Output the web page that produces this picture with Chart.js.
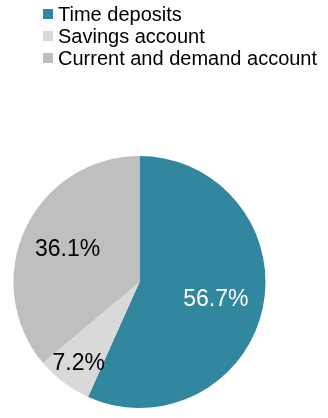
<!DOCTYPE html>
<html>
<head>
<meta charset="utf-8">
<script src="https://cdn.jsdelivr.net/npm/chart.js@4/dist/chart.umd.min.js"></script>
<style>
  html, body { margin: 0; padding: 0; background: #ffffff; }
  #wrap { width: 328px; height: 418px; }
</style>
</head>
<body>
<div id="wrap"><canvas id="depositosChart" width="328" height="418"></canvas></div>
<script>
// Datos del gráfico
const categorias = ['Time deposits', 'Savings account', 'Current and demand account'];
const porcentajes = [56.7, 7.2, 36.1];
const colores = ['#31879d', '#d9d9d9', '#bfbfbf'];
const coloresTexto = ['#ffffff', '#000000', '#000000'];
// Distancia de cada etiqueta al centro (fracción del radio)
const radioEtiqueta = [0.62, 0.8, 0.63];

// Leyenda vertical alineada a la izquierda, dibujada en el canvas
const leyendaPlugin = {
  id: 'leyendaVertical',
  afterDraw(chart) {
    const c = chart.ctx;
    const ds = chart.data.datasets[0];
    c.save();
    c.font = '20px "Liberation Sans", Arial, sans-serif';
    c.textBaseline = 'middle';
    c.textAlign = 'left';
    chart.data.labels.forEach((label, i) => {
      const y = 14 + i * 22;
      c.fillStyle = ds.backgroundColor[i];
      c.fillRect(43, y - 5, 10, 10);
      c.fillStyle = '#000000';
      c.fillText(label, 58, y + 1);
    });
    c.restore();
  }
};

// Etiquetas de porcentaje dentro de cada sector
const etiquetasPlugin = {
  id: 'etiquetasSector',
  afterDatasetsDraw(chart) {
    const c = chart.ctx;
    const meta = chart.getDatasetMeta(0);
    c.save();
    c.font = '23px "Liberation Sans", Arial, sans-serif';
    c.textAlign = 'center';
    c.textBaseline = 'middle';
    meta.data.forEach((arc, i) => {
      const p = arc.getProps(['x', 'y', 'startAngle', 'endAngle', 'outerRadius'], true);
      const mid = (p.startAngle + p.endAngle) / 2;
      const r = p.outerRadius * radioEtiqueta[i];
      c.fillStyle = coloresTexto[i];
      c.fillText(porcentajes[i].toFixed(1) + '%', p.x + Math.cos(mid) * r, p.y + Math.sin(mid) * r + 1);
    });
    c.restore();
  }
};

const ctx = document.getElementById('depositosChart').getContext('2d');
const depositosChart = new Chart(ctx, {
  type: 'pie',
  data: {
    labels: categorias,
    datasets: [{
      data: porcentajes,
      backgroundColor: colores,
      borderWidth: 0
    }]
  },
  options: {
    responsive: false,
    animation: false,
    layout: {
      padding: { left: 13.5, right: 62.5, top: 156, bottom: 10 }
    },
    plugins: {
      legend: { display: false },
      tooltip: { enabled: false },
      title: { display: false }
    }
  },
  plugins: [leyendaPlugin, etiquetasPlugin]
});
</script>
</body>
</html>
